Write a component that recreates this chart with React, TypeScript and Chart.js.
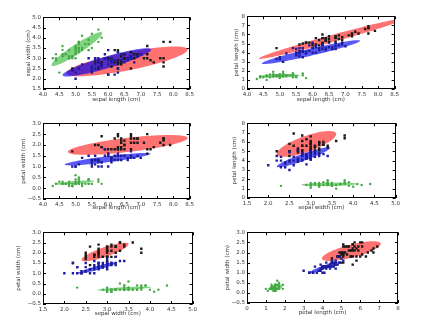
import React, { useEffect, useRef } from "react";
import { Chart, registerables } from "chart.js";

Chart.register(...registerables);

// ---- Iris data (sepal length, sepal width, petal length, petal width) ----
const setosaSL = [5.1,4.9,4.7,4.6,5.0,5.4,4.6,5.0,4.4,4.9,5.4,4.8,4.8,4.3,5.8,5.7,5.4,5.1,5.7,5.1,5.4,5.1,4.6,5.1,4.8,5.0,5.0,5.2,5.2,4.7,4.8,5.4,5.2,5.5,4.9,5.0,5.5,4.9,4.4,5.1,5.0,4.5,4.4,5.0,5.1,4.8,5.1,4.6,5.3,5.0];
const setosaSW = [3.5,3.0,3.2,3.1,3.6,3.9,3.4,3.4,2.9,3.1,3.7,3.4,3.0,3.0,4.0,4.4,3.9,3.5,3.8,3.8,3.4,3.7,3.6,3.3,3.4,3.0,3.4,3.5,3.4,3.2,3.1,3.4,4.1,4.2,3.1,3.2,3.5,3.1,3.0,3.4,3.5,2.3,3.2,3.5,3.8,3.0,3.8,3.2,3.7,3.3];
const setosaPL = [1.4,1.4,1.3,1.5,1.4,1.7,1.4,1.5,1.4,1.5,1.5,1.6,1.4,1.1,1.2,1.5,1.3,1.4,1.7,1.5,1.7,1.5,1.0,1.7,1.9,1.6,1.6,1.5,1.4,1.6,1.6,1.5,1.5,1.4,1.5,1.2,1.3,1.5,1.3,1.5,1.3,1.3,1.3,1.6,1.9,1.4,1.6,1.4,1.5,1.4];
const setosaPW = [0.2,0.2,0.2,0.2,0.2,0.4,0.3,0.2,0.2,0.1,0.2,0.2,0.1,0.1,0.2,0.4,0.4,0.3,0.3,0.3,0.2,0.4,0.2,0.5,0.2,0.2,0.4,0.2,0.2,0.2,0.2,0.4,0.1,0.2,0.1,0.2,0.2,0.1,0.2,0.2,0.3,0.3,0.2,0.6,0.4,0.3,0.2,0.2,0.2,0.2];

const versicolorSL = [7.0,6.4,6.9,5.5,6.5,5.7,6.3,4.9,6.6,5.2,5.0,5.9,6.0,6.1,5.6,6.7,5.6,5.8,6.2,5.6,5.9,6.1,6.3,6.1,6.4,6.6,6.8,6.7,6.0,5.7,5.5,5.5,5.8,6.0,5.4,6.0,6.7,6.3,5.6,5.5,5.5,6.1,5.8,5.0,5.6,5.7,5.7,6.2,5.1,5.7];
const versicolorSW = [3.2,3.2,3.1,2.3,2.8,2.8,3.3,2.4,2.9,2.7,2.0,3.0,2.2,2.9,2.9,3.1,3.0,2.7,2.2,2.5,3.2,2.8,2.5,2.8,2.9,3.0,2.8,3.0,2.9,2.6,2.4,2.4,2.7,2.7,3.0,3.4,3.1,2.3,3.0,2.5,2.6,3.0,2.6,2.3,2.7,3.0,2.9,2.9,2.5,2.8];
const versicolorPL = [4.7,4.5,4.9,4.0,4.6,4.5,4.7,3.3,4.6,3.9,3.5,4.2,4.0,4.7,3.6,4.4,4.5,4.1,4.5,3.9,4.8,4.0,4.9,4.7,4.3,4.4,4.8,5.0,4.5,3.5,3.8,3.7,3.9,5.1,4.5,4.5,4.7,4.4,4.1,4.0,4.4,4.6,4.0,3.3,4.2,4.2,4.2,4.3,3.0,4.1];
const versicolorPW = [1.4,1.5,1.5,1.3,1.5,1.3,1.6,1.0,1.3,1.4,1.0,1.5,1.0,1.4,1.3,1.4,1.5,1.0,1.5,1.1,1.8,1.3,1.5,1.2,1.3,1.4,1.4,1.7,1.5,1.0,1.1,1.0,1.2,1.6,1.5,1.6,1.5,1.3,1.3,1.3,1.2,1.4,1.2,1.0,1.3,1.2,1.3,1.3,1.1,1.3];

const virginicaSL = [6.3,5.8,7.1,6.3,6.5,7.6,4.9,7.3,6.7,7.2,6.5,6.4,6.8,5.7,5.8,6.4,6.5,7.7,7.7,6.0,6.9,5.6,7.7,6.3,6.7,7.2,6.2,6.1,6.4,7.2,7.4,7.9,6.4,6.3,6.1,7.7,6.3,6.4,6.0,6.9,6.7,6.9,5.8,6.8,6.7,6.7,6.3,6.5,6.2,5.9];
const virginicaSW = [3.3,2.7,3.0,2.9,3.0,3.0,2.5,2.9,2.5,3.6,3.2,2.7,3.0,2.5,2.8,3.2,3.0,3.8,2.6,2.2,3.2,2.8,2.8,2.7,3.3,3.2,2.8,3.0,2.8,3.0,2.8,3.8,2.8,2.8,2.6,3.0,3.4,3.1,3.0,3.1,3.1,3.1,2.7,3.2,3.3,3.0,2.5,3.0,3.4,3.0];
const virginicaPL = [6.0,5.1,5.9,5.6,5.8,6.6,4.5,6.3,5.8,6.1,5.1,5.3,5.5,5.0,5.1,5.3,5.5,6.7,6.9,5.0,5.7,4.9,6.7,4.9,5.7,6.0,4.8,4.9,5.6,5.8,6.1,6.4,5.6,5.1,5.6,6.1,5.6,5.5,4.8,5.4,5.6,5.1,5.1,5.9,5.7,5.2,5.0,5.2,5.4,5.1];
const virginicaPW = [2.5,1.9,2.1,1.8,2.2,2.1,1.7,1.8,1.8,2.5,2.0,1.9,2.1,2.0,2.4,2.3,1.8,2.2,2.3,1.5,2.3,2.0,2.0,1.8,2.1,1.8,1.8,1.8,2.1,1.6,1.9,2.0,2.2,1.5,1.4,2.3,2.4,1.8,1.8,2.1,2.4,2.3,1.9,2.3,2.5,2.3,1.9,2.0,2.3,1.8];

// feature labels
const featureLabels = ["sepal length (cm)", "sepal width (cm)", "petal length (cm)", "petal width (cm)"];

// feature pairs for each subplot [x feature, y feature]
const pairs = [[0, 1], [0, 2], [0, 3], [1, 2], [1, 3], [2, 3]];

// axis ranges per subplot: [xmin, xmax, xstep, ymin, ymax, ystep]
const axisRanges = [
  [4.0, 8.5, 0.5, 1.5, 5.0, 0.5],
  [4.0, 8.5, 0.5, 0, 8, 1],
  [4.0, 8.5, 0.5, -0.5, 3.0, 0.5],
  [1.5, 5.0, 0.5, 0, 8, 1],
  [1.5, 5.0, 0.5, -0.5, 3.0, 0.5],
  [0, 8, 1, -0.5, 3.0, 0.5],
];

// ellipses per subplot, per class (setosa, versicolor, virginica):
// [centerX, centerY, majorVecX, majorVecY, minorVecX, minorVecY] in data units
const setosaEllipses = [
  [5.04, 3.45, 0.78, 0.78, 0, 0.28],
  [5.0, 1.46, 0.6, 0.05, 0, 0.2],
  [4.97, 0.26, 0.6, 0.07, 0, 0.07],
  [3.44, 1.46, 0.66, 0.05, 0, 0.18],
  [3.4, 0.25, 0.63, 0.07, 0, 0.07],
  [1.53, 0.27, 0.35, 0.05, 0, 0.15],
];
const versicolorEllipses = [
  [5.96, 2.8, 1.36, 0.62, 0, 0.3],
  [5.95, 4.06, 1.5, 1.25, 0, 0.4],
  [5.98, 1.34, 1.32, 0.25, 0, 0.14],
  [2.83, 4.37, 0.63, 1.0, 0, 0.4],
  [2.77, 1.26, 0.46, 0.26, 0, 0.1],
  [4.07, 1.26, 0.8, 0.27, 0, 0.1],
];
const virginicaEllipses = [
  [6.58, 2.85, 1.86, 0.57, 0, 0.45],
  [6.59, 5.55, 2.23, 2.2, 0, 0.4],
  [6.6, 2.0, 1.84, 0.32, 0, 0.33],
  [2.9, 5.79, 0.7, 1.05, 0, 0.9],
  [2.95, 2.04, 0.55, 0.38, 0, 0.25],
  [5.53, 2.07, 1.56, 0.36, 0, 0.33],
];

// ---- layout (pixel positions of each plot area and its axis titles) ----
// [plotLeft, plotRight, plotTop, plotBottom, yTitleCenterX, xTitleCenterY]
const LAYOUT = [
  [43, 192, 16, 89, 28, 100],
  [247, 397, 15, 89, 236, 100],
  [43, 192, 122, 199, 23, 208],
  [247, 398, 122, 198, 234, 208],
  [43, 195, 231, 304, 18, 314],
  [247, 398, 231, 303, 227, 313],
];

const FONT = { family: "'DejaVu Sans', sans-serif", size: 5.5 };
const TEXT = "#333333";
const HALF_LINE = 5.5 * 1.2 / 2;

const classes = [
  { sl: setosaSL, sw: setosaSW, pl: setosaPL, pw: setosaPW, point: "#46a846", style: "circle", r: 1.2, ell: setosaEllipses, fill: "rgba(0,170,0,0.5)" },
  { sl: versicolorSL, sw: versicolorSW, pl: versicolorPL, pw: versicolorPW, point: "#1c1c9c", style: "rect", r: 1.7, ell: versicolorEllipses, fill: "rgba(0,0,240,0.65)" },
  { sl: virginicaSL, sw: virginicaSW, pl: virginicaPL, pw: virginicaPW, point: "#1a1a1a", style: "rect", r: 1.7, ell: virginicaEllipses, fill: "rgba(255,20,20,0.6)" },
];

function feature(c: any, idx: number): number[] {
  return [c.sl, c.sw, c.pl, c.pw][idx];
}

function fmt(v: number, step: number) {
  const s = step < 1 ? v.toFixed(1) : String(Math.round(v));
  return s.replace("-", "\u2212");
}

function makeEllipsePlugin(k: number) {
  return {
    id: "ellipses" + k,
    beforeDatasetsDraw(chart: any) {
      const { ctx, chartArea, scales } = chart;
      ctx.save();
      ctx.beginPath();
      ctx.rect(chartArea.left, chartArea.top, chartArea.right - chartArea.left, chartArea.bottom - chartArea.top);
      ctx.clip();
      const order = [0, 2, 1];
      for (const ci of order) {
        const c = classes[ci];
        const [cx, cy, ux, uy, vx, vy] = c.ell[k];
        ctx.beginPath();
        const N = 90;
        for (let i = 0; i <= N; i++) {
          const t = (i / N) * Math.PI * 2;
          const x = cx + ux * Math.cos(t) + vx * Math.sin(t);
          const y = cy + uy * Math.cos(t) + vy * Math.sin(t);
          const px = scales.x.getPixelForValue(x);
          const py = scales.y.getPixelForValue(y);
          if (i === 0) ctx.moveTo(px, py);
          else ctx.lineTo(px, py);
        }
        ctx.closePath();
        ctx.fillStyle = c.fill;
        ctx.fill();
      }
      ctx.restore();
    },
  };
}

const framePlugin = {
  id: "frame",
  afterDraw(chart: any) {
    const { ctx, chartArea, scales } = chart;
    const { left, right, top, bottom } = chartArea;
    ctx.save();
    ctx.strokeStyle = "#000";
    ctx.lineWidth = 1;
    ctx.strokeRect(Math.round(left) + 0.5, Math.round(top) + 0.5, Math.round(right - left) - 1, Math.round(bottom - top) - 1);
    ctx.beginPath();
    const L = 3;
    for (const t of scales.x.ticks) {
      const x = Math.round(scales.x.getPixelForValue(t.value)) + 0.5;
      ctx.moveTo(x, bottom);
      ctx.lineTo(x, bottom - L);
      ctx.moveTo(x, top);
      ctx.lineTo(x, top + L);
    }
    for (const t of scales.y.ticks) {
      const y = Math.round(scales.y.getPixelForValue(t.value)) + 0.5;
      ctx.moveTo(left, y);
      ctx.lineTo(left + L, y);
      ctx.moveTo(right, y);
      ctx.lineTo(right - L, y);
    }
    ctx.stroke();
    ctx.restore();
  },
};

function SubPlot({ k }: { k: number }) {
  const ref = useRef<HTMLCanvasElement>(null);
  const [pl, pr, pt, pb, ytx, xty] = LAYOUT[k];
  const canvasLeft = Math.round(ytx - HALF_LINE);
  const canvasTop = pt - 4;
  const canvasRight = pr + 4;
  const canvasBottom = Math.round(xty + HALF_LINE);
  const width = canvasRight - canvasLeft;
  const height = canvasBottom - canvasTop;
  const yAxisWidth = pl - canvasLeft;
  const xAxisHeight = canvasBottom - pb;

  useEffect(() => {
    const [xf, yf] = pairs[k];
    const [xmin, xmax, xstep, ymin, ymax, ystep] = axisRanges[k];
    const datasets = classes.map((c) => {
      const xs = feature(c, xf);
      const ys = feature(c, yf);
      return {
        data: xs.map((x, i) => ({ x, y: ys[i] })),
        backgroundColor: c.point,
        borderColor: c.point,
        borderWidth: 0,
        pointStyle: c.style,
        pointRadius: c.r,
        pointHoverRadius: c.r,
      };
    });
    const chart = new Chart(ref.current as HTMLCanvasElement, {
      type: "scatter",
      data: { datasets } as any,
      options: {
        animation: false,
        responsive: false,
        maintainAspectRatio: false,
        layout: { padding: { top: 4, right: 4, left: 0, bottom: 0 } },
        plugins: { legend: { display: false }, tooltip: { enabled: false } },
        scales: {
          x: {
            type: "linear",
            min: xmin,
            max: xmax,
            ticks: {
              stepSize: xstep,
              autoSkip: false,
              maxRotation: 0,
              padding: 2,
              font: FONT,
              color: TEXT,
              callback: (v: any) => fmt(Number(v), xstep),
            },
            grid: { display: false, drawTicks: false },
            border: { display: false },
            title: { display: true, text: featureLabels[xf], font: FONT, color: TEXT, padding: 0 },
            afterFit: (s: any) => {
              s.height = xAxisHeight;
            },
          },
          y: {
            type: "linear",
            min: ymin,
            max: ymax,
            ticks: {
              stepSize: ystep,
              autoSkip: false,
              padding: 2,
              font: FONT,
              color: TEXT,
              callback: (v: any) => fmt(Number(v), ystep),
            },
            grid: { display: false, drawTicks: false },
            border: { display: false },
            title: { display: true, text: featureLabels[yf], font: FONT, color: TEXT, padding: 0 },
            afterFit: (s: any) => {
              s.width = yAxisWidth;
            },
          },
        },
      } as any,
      plugins: [makeEllipsePlugin(k), framePlugin],
    });
    return () => chart.destroy();
  }, [k]);

  return (
    <div style={{ position: "absolute", left: canvasLeft, top: canvasTop, width, height }}>
      <canvas ref={ref} width={width} height={height} style={{ width, height, display: "block" }} />
    </div>
  );
}

export default function App() {
  return (
    <div style={{ position: "absolute", left: 0, top: 0, width: 428, height: 326, background: "#fff", overflow: "hidden" }}>
      {[0, 1, 2, 3, 4, 5].map((k) => (
        <SubPlot key={k} k={k} />
      ))}
    </div>
  );
}
